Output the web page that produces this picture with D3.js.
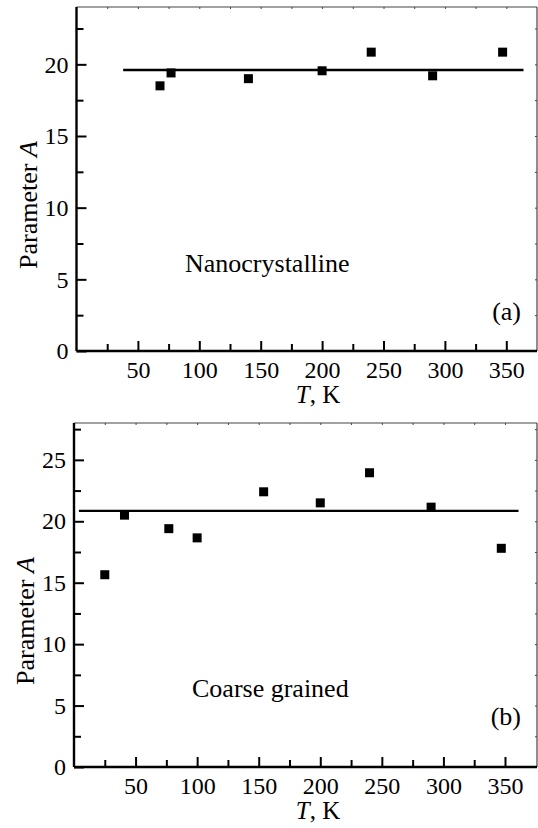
<!DOCTYPE html>
<html>
<head>
<meta charset="utf-8">
<script src="https://cdn.jsdelivr.net/npm/d3@7"></script>
<style>
  body { margin: 0; background: #fff; }
</style>
</head>
<body>
<div id="chart"></div>
<script>
// DATA
const tempA = [68, 77, 140, 200, 240, 290, 347];
const paramA = [18.5, 19.4, 19.0, 19.55, 20.85, 19.2, 20.85];
const fitA = 19.6;
const fitSpanA = [38, 364];

const tempB = [25, 41, 77, 100, 154, 200, 240, 290, 347];
const paramB = [15.65, 20.5, 19.4, 18.65, 22.4, 21.5, 23.95, 21.15, 17.8];
const fitB = 20.85;
const fitSpanB = [4, 361];

const xTicks = [50, 100, 150, 200, 250, 300, 350];
const xMinor = [25, 75, 125, 175, 225, 275, 325];
const yTicksA = [0, 5, 10, 15, 20];
const yMinorA = [2.5, 7.5, 12.5, 17.5, 22.5];
const yTicksB = [0, 5, 10, 15, 20, 25];
const yMinorB = [2.5, 7.5, 12.5, 17.5, 22.5, 27.5];

const width = 538, height = 828;

const svg = d3.select('#chart').append('svg')
  .attr('width', width)
  .attr('height', height);

function drawPanel(p) {
  const x = d3.scaleLinear().domain(p.xDomain).range([p.left, p.right]);
  const y = d3.scaleLinear().domain(p.yDomain).range([p.bottom, p.top]);
  const g = svg.append('g').attr('font-family', p.font);

  // thin top / right frame with tiny mirror ticks
  g.append('line').attr('x1', p.left).attr('x2', p.right).attr('y1', p.top).attr('y2', p.top)
    .style('stroke', '#444').style('stroke-width', 1.2);
  g.append('line').attr('x1', p.right).attr('x2', p.right).attr('y1', p.top).attr('y2', p.bottom)
    .style('stroke', '#444').style('stroke-width', 1.2);

  g.append('g').attr('transform', `translate(0,${p.top})`)
    .call(d3.axisTop(x).tickValues(xTicks.concat(xMinor)).tickSize(-2).tickFormat(''))
    .call(a => a.select('.domain').remove())
    .selectAll('line').style('stroke', '#444');
  g.append('g').attr('transform', `translate(${p.right},0)`)
    .call(d3.axisRight(y).tickValues(p.yTicks.concat(p.yMinor)).tickSize(-2).tickFormat(''))
    .call(a => a.select('.domain').remove())
    .selectAll('line').style('stroke', '#444');

  // bottom axis
  const xAx = g.append('g').attr('transform', `translate(0,${p.bottom})`)
    .call(d3.axisBottom(x).tickValues(xTicks).tickSize(-10).tickPadding(10));
  xAx.attr('font-family', p.font).attr('font-size', 24);
  xAx.select('.domain').remove();
  xAx.selectAll('line').style('stroke-width', 2);
  g.append('g').attr('transform', `translate(0,${p.bottom})`)
    .call(d3.axisBottom(x).tickValues(xMinor).tickSize(-7).tickFormat(''))
    .call(a => a.select('.domain').remove())
    .selectAll('line').style('stroke-width', 2);

  // left axis
  const yAx = g.append('g').attr('transform', `translate(${p.left},0)`)
    .call(d3.axisLeft(y).tickValues(p.yTicks).tickSize(-10).tickPadding(8));
  yAx.attr('font-family', p.font).attr('font-size', 24);
  yAx.select('.domain').remove();
  yAx.selectAll('line').style('stroke-width', 2);
  g.append('g').attr('transform', `translate(${p.left},0)`)
    .call(d3.axisLeft(y).tickValues(p.yMinor).tickSize(-7).tickFormat(''))
    .call(a => a.select('.domain').remove())
    .selectAll('line').style('stroke-width', 2);

  // thick left / bottom frame
  g.append('line').attr('x1', p.left).attr('x2', p.right).attr('y1', p.bottom).attr('y2', p.bottom)
    .style('stroke', '#000').style('stroke-width', 2.4);
  g.append('line').attr('x1', p.left).attr('x2', p.left).attr('y1', p.top).attr('y2', p.bottom)
    .style('stroke', '#000').style('stroke-width', 2.4);

  // fitted constant
  g.append('line')
    .attr('x1', x(p.fitSpan[0])).attr('x2', x(p.fitSpan[1]))
    .attr('y1', y(p.fit)).attr('y2', y(p.fit))
    .style('stroke', '#000').style('stroke-width', 2.4);

  // points
  const pts = p.temps.map((t, i) => ({ t: t, v: p.vals[i] }));
  const s = 9;
  g.selectAll('rect.pt').data(pts).enter().append('rect')
    .attr('class', 'pt')
    .attr('x', d => x(d.t) - s / 2)
    .attr('y', d => y(d.v) - s / 2)
    .attr('width', s).attr('height', s)
    .style('fill', '#000');

  // labels
  g.append('text')
    .attr('transform', `translate(${p.left - 40},${(p.top + p.bottom) / 2 + 26}) rotate(-90)`)
    .attr('text-anchor', 'middle')
    .attr('font-size', 26)
    .html('Parameter <tspan font-style="italic">A</tspan>');

  g.append('text')
    .attr('x', 318).attr('y', p.bottom + 52)
    .attr('text-anchor', 'middle')
    .attr('font-size', 25)
    .html('<tspan font-style="italic">T</tspan>, K');

  g.append('text')
    .attr('x', p.noteX).attr('y', p.noteY)
    .attr('font-size', 26)
    .text(p.note);

  g.append('text')
    .attr('x', p.right - 16).attr('y', p.tagY)
    .attr('text-anchor', 'end')
    .attr('font-size', 26)
    .text(p.tag);
}

drawPanel({
  left: 76.5, right: 537, top: 7, bottom: 351,
  xDomain: [0, 375], yDomain: [0, 24],
  yTicks: yTicksA, yMinor: yMinorA,
  temps: tempA, vals: paramA, fit: fitA, fitSpan: fitSpanA,
  note: 'Nanocrystalline', noteX: 185, noteY: 272,
  tag: '(a)', tagY: 320, font: 'Liberation Serif'
});

drawPanel({
  left: 74, right: 537, top: 423, bottom: 767,
  xDomain: [0, 376], yDomain: [0, 28],
  yTicks: yTicksB, yMinor: yMinorB,
  temps: tempB, vals: paramB, fit: fitB, fitSpan: fitSpanB,
  note: 'Coarse grained', noteX: 192, noteY: 697,
  tag: '(b)', tagY: 725, font: 'Times New Roman'
});
</script>
</body>
</html>
